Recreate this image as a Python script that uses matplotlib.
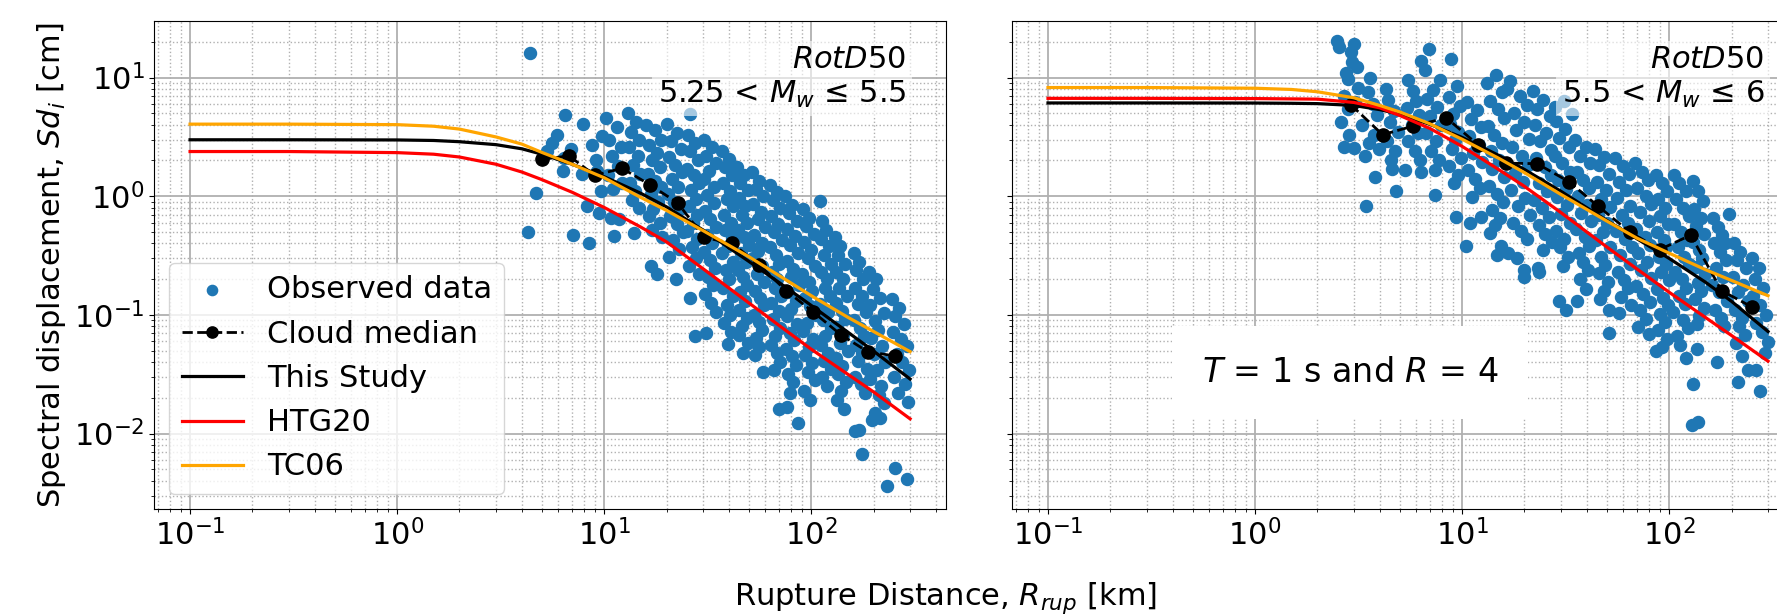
import matplotlib.pyplot as plt

plt.rcParams['font.size'] = 22
plt.rcParams['font.family'] = 'DejaVu Sans'

# distances where the model curves are read (km)
model_R = [0.1, 0.3, 1, 1.5, 2, 3, 4, 5, 7, 10, 15, 20, 30, 50, 70, 100, 150, 200, 300]

# ---- left panel: 5.25 < Mw <= 5.5 ----
study_left = [2.99, 2.99, 2.98, 2.95, 2.88, 2.72, 2.51, 2.26, 1.86, 1.46, 1.06, 0.813,
              0.519, 0.282, 0.187, 0.120, 0.0716, 0.0495, 0.0288]
htg_left = [2.38, 2.38, 2.33, 2.26, 2.14, 1.86, 1.60, 1.38, 1.08, 0.804, 0.55, 0.412,
            0.245, 0.126, 0.0813, 0.0513, 0.0316, 0.0224, 0.0133]
tc_left = [4.05, 4.05, 4.01, 3.89, 3.68, 3.16, 2.75, 2.34, 1.86, 1.43, 0.977, 0.759,
           0.513, 0.309, 0.214, 0.145, 0.0955, 0.0724, 0.049]

med_left_R = [4.98, 6.76, 9.0, 12.2, 16.6, 22.6, 30.4, 41.5, 56, 75.9, 102, 139, 187, 254]
med_left_Sd = [2.04, 2.19, 1.50, 1.72, 1.25, 0.88, 0.45, 0.40, 0.264, 0.159, 0.106, 0.068,
               0.049, 0.045]

obs_left = [
    (4.4, 16.0), (4.3, 0.50), (4.7, 1.07), (5.3, 2.4), (5.6, 2.8), (5.9, 3.3), (6.3, 1.63),
    (6.4, 2.1), (6.5, 4.8), (6.9, 2.5), (7.1, 0.47), (7.8, 1.53), (7.9, 4.1), (8.3, 0.82),
    (8.4, 0.40), (8.7, 2.7), (9.1, 2.0), (9.2, 1.63), (9.4, 0.72), (9.6, 1.1), (9.8, 3.2),
    (10.2, 4.6), (11.5, 3.8), (10.6, 3.0), (12.0, 2.6), (10.9, 2.2), (11.6, 1.8), (10.4, 1.5),
    (12.2, 1.3), (11.0, 1.15), (10.8, 0.66), (11.2, 0.46), (11.8, 0.64),
    (13.0, 5.0), (14.2, 4.2), (13.5, 3.5), (14.8, 3.0), (13.2, 2.6), (14.5, 2.2), (13.8, 1.85),
    (14.9, 1.55), (13.3, 1.3), (14.1, 1.1), (13.6, 0.93), (14.7, 0.8), (13.9, 0.49), (26.0, 4.9),
    (16.0, 4.0), (17.5, 3.6), (18.8, 3.0), (16.5, 2.7), (18.0, 2.3), (17.0, 2.0), (18.6, 1.75),
    (16.2, 1.55), (17.6, 1.35), (18.9, 1.2), (16.8, 1.05), (18.2, 0.9), (17.3, 0.78), (16.4, 0.68),
    (18.5, 0.6), (17.0, 0.52), (19.0, 0.45), (16.8, 0.26), (18.0, 0.22),
    (20.0, 4.1), (22.5, 3.4), (21.0, 2.9), (23.5, 2.5), (20.5, 2.15), (22.0, 1.85), (23.8, 1.6),
    (21.2, 1.4), (22.8, 1.2), (20.3, 1.05), (21.8, 0.9), (23.2, 0.78), (20.8, 0.68), (22.4, 0.58),
    (24.0, 0.5), (21.5, 0.43), (23.0, 0.36), (20.6, 0.31), (22.2, 0.2),
    (25.5, 3.3), (27.5, 2.8), (26.0, 2.4), (28.5, 2.0), (25.2, 1.7), (27.0, 1.5), (28.8, 1.3),
    (26.3, 1.12), (27.8, 0.95), (25.6, 0.82), (28.2, 0.7), (26.7, 0.6), (25.0, 0.51), (28.0, 0.44),
    (26.5, 0.37), (27.6, 0.3), (25.8, 0.26), (28.6, 0.22), (26.0, 0.14), (27.5, 0.066),
    (30.5, 3.0), (33.0, 2.6), (31.0, 2.2), (34.5, 1.9), (32.0, 1.62), (30.2, 1.4), (33.8, 1.2),
    (31.5, 1.02), (34.0, 0.88), (30.8, 0.75), (32.6, 0.64), (34.8, 0.55), (31.2, 0.47), (33.2, 0.4),
    (30.4, 0.34), (32.4, 0.29), (34.2, 0.25), (31.6, 0.21), (33.5, 0.18), (30.8, 0.15),
    (32.8, 0.125), (34.5, 0.105), (31.0, 0.07),
    (37.0, 2.4), (40.0, 2.05), (38.5, 1.75), (41.5, 1.5), (37.5, 1.28), (40.5, 1.1), (39.0, 0.95),
    (42.0, 0.82), (37.8, 0.7), (40.8, 0.6), (38.2, 0.52), (41.2, 0.45), (39.5, 0.38), (37.2, 0.33),
    (41.8, 0.28), (38.8, 0.24), (40.2, 0.2), (37.6, 0.17), (42.0, 0.145), (39.2, 0.12),
    (40.6, 0.1), (38.0, 0.085), (41.0, 0.072), (39.8, 0.057),
    (44.0, 1.75), (47.5, 1.5), (45.5, 1.3), (49.5, 1.12), (44.8, 0.96), (48.0, 0.82), (46.2, 0.7),
    (49.0, 0.6), (44.5, 0.52), (47.2, 0.45), (49.8, 0.39), (45.8, 0.33), (48.5, 0.28), (44.2, 0.24),
    (46.8, 0.21), (49.2, 0.18), (45.2, 0.155), (47.8, 0.13), (44.6, 0.11), (48.8, 0.095),
    (46.5, 0.08), (45.0, 0.068), (49.5, 0.058), (47.0, 0.048),
    (52.0, 1.6), (56.0, 1.35), (54.0, 1.15), (58.5, 1.0), (52.5, 0.86), (57.0, 0.74), (55.0, 0.64),
    (59.5, 0.55), (53.0, 0.47), (57.5, 0.4), (55.5, 0.345), (52.2, 0.3), (58.0, 0.26), (54.5, 0.22),
    (59.0, 0.19), (53.5, 0.16), (56.5, 0.14), (58.8, 0.12), (52.8, 0.1), (55.8, 0.087),
    (57.8, 0.075), (54.2, 0.064), (56.2, 0.054), (53.2, 0.046), (58.2, 0.033),
    (63, 1.25), (68, 1.08), (65, 0.93), (71, 0.8), (64, 0.68), (69, 0.58), (66, 0.5), (72, 0.43),
    (63.5, 0.37), (67.5, 0.32), (70, 0.27), (64.5, 0.23), (68.5, 0.2), (66.5, 0.17), (71.5, 0.145),
    (63.8, 0.125), (69.5, 0.107), (65.5, 0.092), (70.5, 0.078), (67, 0.066), (64.2, 0.056),
    (68.2, 0.048), (71, 0.04), (66, 0.034), (70, 0.016),
    (75, 1.0), (81, 0.85), (78, 0.72), (85, 0.62), (76, 0.53), (83, 0.46), (79, 0.39), (86, 0.33),
    (76.5, 0.285), (82, 0.245), (79.5, 0.21), (87, 0.18), (77, 0.155), (84, 0.132), (80, 0.113),
    (76, 0.097), (85.5, 0.083), (78.5, 0.071), (82.5, 0.061), (75.5, 0.052), (80.5, 0.045),
    (84.5, 0.038), (77.5, 0.032), (81.5, 0.027), (79, 0.022), (76, 0.0167), (86.7, 0.0122),
    (91, 0.78), (97, 0.66), (94, 0.56), (103, 0.48), (92, 0.41), (100, 0.35), (96, 0.3), (104, 0.26),
    (90, 0.22), (98, 0.19), (101, 0.16), (93, 0.138), (99, 0.118), (105, 0.1), (95, 0.086),
    (91.5, 0.073), (102, 0.063), (97.5, 0.054), (93.5, 0.046), (100.5, 0.039), (96, 0.033),
    (104, 0.028), (92.5, 0.023), (99, 0.019),
    (110, 0.92), (113, 0.62), (118, 0.52), (111, 0.44), (122, 0.38), (115, 0.32), (124, 0.27),
    (112, 0.23), (119, 0.2), (116, 0.17), (123, 0.145), (110.5, 0.124), (120, 0.106), (114, 0.09),
    (125, 0.077), (117, 0.066), (111.5, 0.056), (121, 0.048), (115.5, 0.041), (124, 0.035),
    (112.5, 0.03), (119, 0.025),
    (130, 0.45), (138, 0.38), (134, 0.32), (145, 0.27), (131, 0.23), (142, 0.2), (136, 0.17),
    (148, 0.145), (132, 0.125), (140, 0.107), (146, 0.092), (133, 0.079), (143, 0.068),
    (137, 0.058), (150, 0.05), (131.5, 0.043), (141, 0.037), (135, 0.032), (147, 0.027),
    (139, 0.023), (133.5, 0.019), (144, 0.016),
    (160, 0.33), (170, 0.28), (165, 0.24), (178, 0.2), (162, 0.17), (175, 0.145), (168, 0.123),
    (183, 0.105), (161, 0.09), (172, 0.077), (180, 0.066), (164, 0.056), (176, 0.048),
    (169, 0.041), (185, 0.035), (163, 0.03), (174, 0.026), (181, 0.022), (162, 0.0106),
    (175, 0.0067),
    (190, 0.23), (205, 0.2), (198, 0.165), (215, 0.14), (192, 0.12), (225, 0.103), (202, 0.088),
    (210, 0.075), (195, 0.064), (220, 0.055), (200, 0.047), (228, 0.04), (207, 0.034),
    (193, 0.029), (218, 0.025), (212, 0.021), (225, 0.018), (203, 0.015), (196, 0.013),
    (245, 0.135), (265, 0.115), (255, 0.098), (280, 0.084), (248, 0.072), (270, 0.062),
    (290, 0.055), (258, 0.047), (275, 0.04), (295, 0.034), (250, 0.03), (285, 0.026),
    (262, 0.022), (294, 0.0186), (290, 0.0041), (254, 0.0051), (233, 0.0036), (214, 0.0135),
    (170, 0.0107),
]

# ---- right panel: 5.5 < Mw <= 6 ----
study_right = [6.11, 6.11, 6.10, 6.07, 6.03, 5.82, 5.37, 4.90, 4.03, 3.13, 2.21, 1.68,
               1.10, 0.624, 0.437, 0.299, 0.188, 0.130, 0.0724]
htg_right = [6.68, 6.68, 6.65, 6.61, 6.58, 6.17, 5.56, 4.79, 3.72, 2.63, 1.68, 1.21,
             0.728, 0.373, 0.243, 0.155, 0.0948, 0.067, 0.0407]
tc_right = [8.24, 8.24, 8.13, 7.94, 7.59, 6.76, 5.82, 5.13, 4.07, 3.02, 2.09, 1.58,
            1.035, 0.617, 0.442, 0.331, 0.24, 0.195, 0.145]

med_right_R = [2.9, 4.13, 5.8, 8.4, 11.9, 16.3, 23, 32.7, 45.5, 64.5, 90, 127, 179, 252]
med_right_Sd = [5.9, 3.3, 3.9, 4.57, 2.72, 1.9, 1.88, 1.33, 0.82, 0.50, 0.355, 0.47, 0.16, 0.116]

obs_right = [
    (2.5, 20.5), (3.0, 19.2), (2.9, 16.5), (2.95, 13.5), (3.1, 12.2), (2.8, 9.7), (3.15, 8.2),
    (2.7, 7.0), (2.8, 5.4), (2.6, 4.2), (2.7, 2.6), (3.0, 2.55), (2.55, 18), (2.75, 11),
    (3.05, 6.2), (2.85, 3.3),
    (3.6, 10), (3.4, 2.2), (3.95, 2.5), (3.8, 1.45), (3.45, 0.82), (3.5, 7.5), (3.7, 6.0),
    (3.9, 4.8), (3.3, 4.0), (3.75, 3.3), (3.55, 2.8),
    (4.4, 6.5), (4.6, 1.7), (4.8, 1.1), (4.3, 8.0), (4.7, 5.2), (4.5, 4.2), (4.9, 3.5),
    (4.35, 2.9), (4.75, 2.4), (4.55, 2.0),
    (5.3, 1.66), (6.3, 1.6), (6.3, 13.8), (5.8, 7.7), (5.5, 9.5), (6.0, 6.3), (5.4, 5.5),
    (6.2, 4.8), (5.7, 4.0), (6.1, 3.4), (5.5, 2.9), (5.9, 2.4), (6.25, 2.0),
    (6.9, 17.4), (6.6, 11.6), (7.2, 7.9), (7.4, 1.65), (7.4, 1.03), (7.8, 9.5), (6.8, 6.6),
    (7.6, 5.6), (7.0, 4.7), (7.9, 4.0), (6.7, 3.4), (7.5, 2.9), (7.1, 2.4), (7.7, 2.0),
    (8.8, 14.3), (9.4, 8.5), (8.6, 6.8), (9.8, 5.8), (9.0, 4.9), (8.7, 4.1), (9.6, 3.5),
    (9.2, 3.0), (8.9, 2.5), (9.9, 2.1), (8.6, 1.8), (9.5, 1.5), (9.1, 1.3), (9.3, 0.67),
    (10.6, 6.2), (11.8, 5.3), (11.0, 4.5), (12.4, 3.8), (10.8, 3.2), (12.0, 2.7), (11.3, 2.3),
    (12.5, 1.95), (10.7, 1.65), (11.6, 1.4), (12.2, 1.18), (11.1, 0.98), (12.3, 0.67),
    (10.9, 0.6), (10.4, 0.38),
    (13.2, 9.0), (14.5, 10.5), (15.5, 7.6), (13.6, 6.4), (14.9, 5.4), (16.0, 4.6), (13.4, 3.9),
    (14.2, 3.3), (15.6, 2.8), (13.8, 2.4), (15.1, 2.0), (14.0, 1.7), (16.0, 1.45), (13.5, 1.23),
    (14.7, 1.05), (15.8, 0.9), (13.9, 0.77), (15.2, 0.66), (14.4, 0.57), (13.7, 0.49),
    (15.4, 0.38), (14.8, 0.32), (16.7, 0.33),
    (17.0, 9.4), (16.5, 8.0), (19.0, 7.0), (20.5, 5.9), (17.8, 5.0), (19.8, 4.2), (18.2, 3.6),
    (21.0, 3.05), (17.4, 2.6), (19.4, 2.2), (20.8, 1.85), (18.0, 1.57), (19.6, 1.33),
    (17.2, 1.13), (20.2, 0.96), (18.6, 0.82), (21.2, 0.7), (17.6, 0.6), (19.2, 0.51),
    (20.6, 0.44), (18.4, 0.3), (19.9, 0.24), (20.0, 0.21),
    (22.0, 7.7), (24.5, 6.5), (23.0, 5.4), (26.5, 4.7), (22.5, 4.0), (25.5, 3.4), (23.8, 2.9),
    (27.0, 2.45), (22.8, 2.1), (25.0, 1.78), (26.8, 1.52), (23.4, 1.29), (25.8, 1.1),
    (22.2, 0.93), (24.2, 0.79), (26.2, 0.67), (23.6, 0.57), (25.2, 0.48), (27.2, 0.41),
    (24.6, 0.35), (23.2, 0.25), (23.5, 0.23),
    (28.0, 5.6), (31.0, 6.4), (34.0, 4.9),
    (28.5, 4.3), (31.5, 3.7), (29.5, 3.1), (32.8, 2.6), (28.2, 2.2), (30.5, 1.9), (33.0, 1.6),
    (29.0, 1.36), (31.8, 1.16), (28.8, 0.98), (32.2, 0.84), (30.0, 0.71), (33.2, 0.6),
    (28.4, 0.51), (31.2, 0.44), (29.6, 0.37), (32.5, 0.31), (30.8, 0.26), (29.2, 0.13),
    (31.6, 0.11),
    (35.0, 3.0), (39.5, 2.6), (37.0, 2.2), (41.5, 1.9), (35.8, 1.6), (38.5, 1.37), (41.0, 1.17),
    (36.2, 1.0), (40.0, 0.85), (37.6, 0.72), (42.0, 0.62), (35.4, 0.53), (39.0, 0.45),
    (41.2, 0.38), (36.6, 0.33), (38.2, 0.28), (40.6, 0.24), (37.2, 0.2), (39.6, 0.165),
    (36.0, 0.13),
    (44.0, 2.5), (48.5, 2.15), (46.0, 1.82), (51.0, 1.55), (44.8, 1.32), (49.5, 1.12),
    (47.0, 0.95), (52.0, 0.81), (45.2, 0.69), (50.0, 0.59), (47.8, 0.5), (44.4, 0.43),
    (51.5, 0.37), (46.6, 0.31), (49.0, 0.265), (45.6, 0.225), (50.6, 0.19), (48.2, 0.16),
    (46.2, 0.135), (51.2, 0.11), (51.0, 0.07),
    (55, 2.1), (60, 1.8), (64, 1.55), (57, 1.32), (62, 1.12), (56, 0.96), (65, 0.82), (59, 0.7),
    (63, 0.6), (55.5, 0.51), (61, 0.44), (66, 0.37), (58, 0.32), (64.5, 0.27), (56.5, 0.23),
    (60.5, 0.196), (63.5, 0.167), (58.5, 0.142), (65.5, 0.121), (57.5, 0.103),
    (68, 1.9), (74, 1.6), (79, 1.38), (70, 1.18), (77, 1.0), (82, 0.86), (72, 0.73), (80, 0.62),
    (69, 0.53), (76, 0.45), (81, 0.39), (71, 0.33), (78, 0.28), (73, 0.24), (82, 0.205),
    (69.5, 0.175), (75, 0.15), (80.5, 0.128), (72.5, 0.109), (77.5, 0.093), (70.5, 0.079),
    (79.5, 0.069),
    (86, 1.5), (92, 1.3), (98, 1.1), (88, 0.94), (95, 0.8), (90, 0.68), (99, 0.58), (87, 0.5),
    (94, 0.43), (97, 0.37), (89, 0.31), (96, 0.27), (91, 0.23), (100, 0.195), (87.5, 0.165),
    (93, 0.14), (98.5, 0.12), (90.5, 0.102), (95.5, 0.087), (88.5, 0.074), (97.5, 0.063),
    (92.5, 0.054), (86.5, 0.05),
    (105, 1.5), (112, 1.28), (120, 1.1), (108, 0.94), (116, 0.8), (124, 0.68), (106, 0.58),
    (114, 0.5), (122, 0.43), (110, 0.37), (118, 0.31), (125, 0.27), (107, 0.23), (115, 0.2),
    (121, 0.17), (111, 0.145), (119, 0.124), (104, 0.105), (117, 0.09), (123, 0.077),
    (109, 0.066), (113, 0.056), (120, 0.043),
    (130, 1.35), (138, 1.1), (146, 0.92), (132, 0.78), (142, 0.66), (135, 0.56), (148, 0.48),
    (131, 0.41), (140, 0.35), (144, 0.3), (134, 0.255), (149, 0.22), (137, 0.185), (143, 0.158),
    (133, 0.135), (147, 0.115), (139, 0.098), (136, 0.083), (131, 0.026), (129, 0.0118),
    (137, 0.0124), (136, 0.052),
    (195, 0.71), (185, 0.4), (162, 0.65), (172, 0.55), (180, 0.47), (165, 0.4), (176, 0.34),
    (188, 0.29), (168, 0.25), (182, 0.21), (161, 0.18), (174, 0.155), (190, 0.13), (166, 0.11),
    (178, 0.094), (184, 0.08), (170, 0.04),
    (205, 0.4), (220, 0.34), (212, 0.29), (235, 0.25), (203, 0.21), (228, 0.18), (215, 0.155),
    (240, 0.13), (208, 0.11), (225, 0.095), (218, 0.08), (232, 0.068), (210, 0.058),
    (214, 0.027), (240, 0.034), (225, 0.045),
    (250, 0.3), (270, 0.25), (260, 0.2), (285, 0.17), (255, 0.145), (275, 0.12), (295, 0.1),
    (262, 0.085), (280, 0.072), (300, 0.059), (262, 0.034), (275, 0.023), (290, 0.048),
]

fig = plt.figure(figsize=(17.77, 6.15), dpi=100)
ax1 = fig.add_axes([0.0867, 0.1724, 0.4457, 0.7935])
ax2 = fig.add_axes([0.5695, 0.1724, 0.4457, 0.7935], sharey=ax1)

panels = [
    (ax1, obs_left, med_left_R, med_left_Sd, study_left, htg_left, tc_left),
    (ax2, obs_right, med_right_R, med_right_Sd, study_right, htg_right, tc_right),
]

for ax, obs, mR, mS, st, htg, tc in panels:
    R, Sd = zip(*obs)
    ax.scatter(R, Sd, s=75, color='#1f77b4', label='Observed data', zorder=2)
    ax.plot(mR, mS, 'k--o', ms=9.5, lw=2, label='Cloud median', zorder=3)
    ax.plot(model_R, st, color='black', lw=2.3, label='This Study', zorder=3)
    ax.plot(model_R, htg, color='red', lw=2.3, label='HTG20', zorder=3)
    ax.plot(model_R, tc, color='orange', lw=2.3, label='TC06', zorder=3)
    ax.set_xscale('log')
    ax.set_yscale('log')
    ax.set_axisbelow(True)
    ax.grid(True, which='major', color='#b0b0b0', lw=1.3)
    ax.grid(True, which='minor', color='#b0b0b0', ls=':', lw=1.0)

ax1.set_ylim(10**-2.636, 10**1.477)
ax2.tick_params(labelleft=False)

ax1.set_ylabel('Spectral displacement, $Sd_i$ [cm]')
ax1.legend(loc='lower left', markerscale=0.85)

box = dict(facecolor='white', alpha=0.6, edgecolor='none')
ax1.text(0.95, 0.95, '$\\mathit{RotD}$50\n5.25 < $M_w$ ≤ 5.5', transform=ax1.transAxes,
         ha='right', va='top', bbox=box, zorder=5)
ax2.text(0.95, 0.95, '$\\mathit{RotD}$50\n5.5 < $M_w$ ≤ 6', transform=ax2.transAxes,
         ha='right', va='top', bbox=box, zorder=5)
ax2.text(0.427, 0.279, '$T$ = 1 s and $R$ = 4', transform=ax2.transAxes, ha='center',
         va='center', fontsize=24,
         bbox=dict(boxstyle='square,pad=0.9', facecolor='white', edgecolor='none'), zorder=5)

fig.text(0.532, 0.028, 'Rupture Distance, $R_{rup}$ [km]', ha='center', va='center')

fig.savefig('out.png', dpi=100)
